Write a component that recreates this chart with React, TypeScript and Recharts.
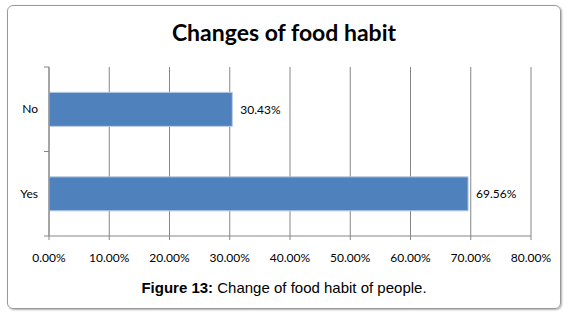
import { BarChart, Bar, XAxis, YAxis, CartesianGrid, LabelList } from 'recharts'

const answers = ['No', 'Yes']
const shares = [0.3043, 0.6956]
const xTicks = [0, 0.1, 0.2, 0.3, 0.4, 0.5, 0.6, 0.7, 0.8]

const data = answers.map((answer, i) => ({ answer, share: shares[i] }))

const pct = (v: number) => `${(v * 100).toFixed(2)}%`
const font = 'Lato, "Open Sans", sans-serif'

// category label plus Excel-style tick marks at the band edges
function CategoryTick(props: any) {
  const { x, y, payload } = props
  const half = payload.offset || 0
  const ax = x + 11
  return (
    <g>
      <line x1={ax - 5} x2={ax} y1={y - half} y2={y - half} stroke="#868686" />
      <line x1={ax - 5} x2={ax} y1={y + half} y2={y + half} stroke="#868686" />
      <text x={x} y={y} dy={4} textAnchor="end" fontSize={12} fill="#000" fontFamily={font}>
        {payload.value}
      </text>
    </g>
  )
}

export default function App() {
  return (
    <div style={{ position: 'absolute', left: 0, top: 0, width: 568, height: 317, background: '#fff' }}>
      <div
        style={{
          position: 'absolute', left: 7, top: 5, width: 552, height: 302,
          border: '1px solid #9a9a9a', borderRadius: 6, boxShadow: '1px 1px 2px #b0b0b0'
        }}
      />
      <div
        style={{
          position: 'absolute', left: 0, top: 18, width: 568, textAlign: 'center',
          fontFamily: font, fontWeight: 700, fontSize: 23, color: '#000'
        }}
      >
        Changes of food habit
      </div>
      <div style={{ position: 'absolute', left: 0, top: 0 }}>
        <BarChart
          width={568}
          height={317}
          data={data}
          layout="vertical"
          barCategoryGap="30%"
          margin={{ top: 67, right: 37, bottom: 51, left: 9 }}
        >
          <CartesianGrid horizontal={false} stroke="#868686" verticalValues={xTicks} />
          <XAxis
            type="number"
            dataKey="share"
            domain={[0, 0.8]}
            ticks={xTicks}
            tickFormatter={pct}
            height={30}
            tickSize={4}
            tickMargin={13}
            stroke="#868686"
            tick={{ fill: '#000', fontSize: 12, fontFamily: font }}
          />
          <YAxis
            type="category"
            dataKey="answer"
            width={40}
            tickSize={0}
            tickMargin={11}
            stroke="#868686"
            tick={<CategoryTick />}
          />
          <Bar dataKey="share" fill="#4F81BD" stroke="#b8cce4" strokeWidth={1} isAnimationActive={false}>
            <LabelList
              dataKey="share"
              position="right"
              offset={8}
              formatter={(v: any) => pct(Number(v))}
              style={{ fill: '#000', fontSize: 12, fontFamily: font }}
            />
          </Bar>
        </BarChart>
      </div>
      <div
        style={{
          position: 'absolute', left: 0, top: 279, width: 568, textAlign: 'center',
          fontFamily: '"Liberation Sans", Arial, sans-serif', fontSize: 15, color: '#000'
        }}
      >
        <b>Figure 13:</b> Change of food habit of people.
      </div>
    </div>
  )
}
